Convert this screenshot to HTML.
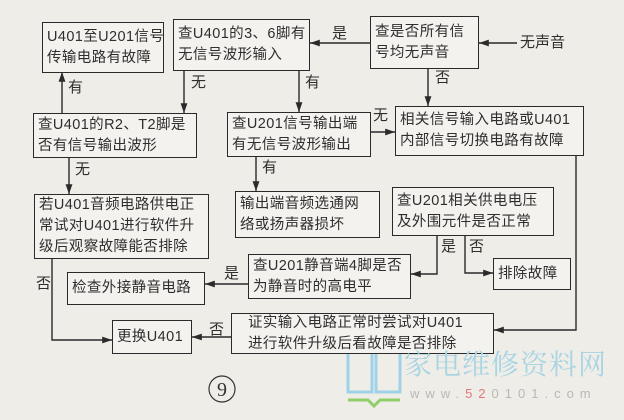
<!DOCTYPE html>
<html><head><meta charset="utf-8"><style>
html,body{margin:0;padding:0}
body{width:624px;height:420px;position:relative;overflow:hidden;background:#efede8;font-family:"Liberation Sans Narrow","Liberation Sans","Noto Sans CJK SC",sans-serif;color:#2e2e2e}
.b{position:absolute;border:1.6px solid #2a2a2a;box-sizing:border-box;background:#f4f2ee;font-size:14.5px;line-height:21px;padding:0 2px 0 4px;display:flex;flex-direction:column;justify-content:center;white-space:nowrap;letter-spacing:0.4px;overflow:hidden}
.l{position:absolute;font-size:15px;line-height:16px;color:#2e2e2e}
svg{position:absolute;left:0;top:0}
</style></head><body>
<svg width="624" height="420">
<defs><marker id="a" viewBox="0 0 10 10" refX="10" refY="5" markerWidth="7" markerHeight="7" orient="auto"><path d="M0,1.5L10,5L0,8.5z" fill="#2a2a2a"/></marker></defs>
<g stroke="#2a2a2a" stroke-width="1.4" fill="none">
<line x1="517" y1="43" x2="479" y2="43" marker-end="url(#a)"/>
<line x1="370" y1="43" x2="310" y2="43" marker-end="url(#a)"/>
<line x1="428" y1="68" x2="428" y2="106" marker-end="url(#a)"/>
<line x1="184" y1="70" x2="184" y2="113" marker-end="url(#a)"/>
<line x1="299" y1="70" x2="299" y2="112" marker-end="url(#a)"/>
<line x1="62" y1="113" x2="62" y2="72" marker-end="url(#a)"/>
<line x1="370" y1="132" x2="395" y2="132" marker-end="url(#a)"/>
<line x1="69" y1="157" x2="69" y2="194" marker-end="url(#a)"/>
<line x1="256" y1="156" x2="256" y2="191" marker-end="url(#a)"/>
<polyline points="576,155 576,330 494,330" marker-end="url(#a)"/>
<polyline points="437,235 437,274 411,274" marker-end="url(#a)"/>
<polyline points="465,235 465,273 493,273" marker-end="url(#a)"/>
<line x1="248" y1="284" x2="205" y2="284" marker-end="url(#a)"/>
<polyline points="52,258 52,340 112,340" marker-end="url(#a)"/>
<line x1="231" y1="337" x2="192" y2="337" marker-end="url(#a)"/>
</g>
<circle cx="222" cy="389" r="13" fill="none" stroke="#333" stroke-width="1.2"/>
<text x="222" y="396" font-family="Liberation Serif,serif" font-size="20" text-anchor="middle" fill="#333">9</text>
<g fill="none" stroke="#9fd2e6" stroke-width="3">
<rect x="348" y="346" width="24" height="46"/><rect x="376" y="346" width="24" height="46"/>
</g>
<path d="M348 400 L368 400 L374 406 L380 400 L400 400" stroke="#8fcf6a" stroke-width="3" fill="none"/>
</svg>
<div class="b" style="left:42px;top:22px;width:122px;height:51px">U401至U201信号<br>传输电路有故障</div>
<div class="b" style="left:173px;top:19px;width:137px;height:52px">查U401的3、6脚有<br>无信号波形输入</div>
<div class="b" style="left:370px;top:16px;width:109px;height:53px">查是否所有信<br>号均无声音</div>
<div class="b" style="left:33px;top:113px;width:164px;height:45px">查U401的R2、T2脚是<br>否有信号输出波形</div>
<div class="b" style="left:227px;top:112px;width:144px;height:45px">查U201信号输出端<br>有无信号波形输出</div>
<div class="b" style="left:395px;top:106px;width:189px;height:50px">相关信号输入电路或U401<br>内部信号切换电路有故障</div>
<div class="b" style="left:34px;top:194px;width:175px;height:65px">若U401音频电路供电正<br>常试对U401进行软件升<br>级后观察故障能否排除</div>
<div class="b" style="left:235px;top:191px;width:145px;height:47px">输出端音频选通网<br>络或扬声器损坏</div>
<div class="b" style="left:392px;top:187px;width:162px;height:49px">查U201相关供电电压<br>及外围元件是否正常</div>
<div class="b" style="left:248px;top:254px;width:163px;height:45px">查U201静音端4脚是否<br>为静音时的高电平</div>
<div class="b" style="left:67px;top:272px;width:138px;height:33px">检查外接静音电路</div>
<div class="b" style="left:493px;top:258px;width:78px;height:32px">排除故障</div>
<div class="b" style="left:112px;top:320px;width:80px;height:34px">更换U401</div>
<div class="b" style="left:231px;top:313px;width:263px;height:41px;padding-left:16px">证实输入电路正常时尝试对U401<br>进行软件升级后看故障是否排除</div>
<div class="l" style="left:332px;top:26px">是</div>
<div class="l" style="left:435px;top:70px">否</div>
<div class="l" style="left:191px;top:75px">无</div>
<div class="l" style="left:305px;top:75px">有</div>
<div class="l" style="left:68px;top:80px">有</div>
<div class="l" style="left:373px;top:108px">无</div>
<div class="l" style="left:75px;top:162px">无</div>
<div class="l" style="left:262px;top:160px">有</div>
<div class="l" style="left:441px;top:239px">是</div>
<div class="l" style="left:469px;top:239px">否</div>
<div class="l" style="left:224px;top:266px">是</div>
<div class="l" style="left:36px;top:276px">否</div>
<div class="l" style="left:209px;top:322px">否</div>
<div class="l" style="left:520px;top:35px">无声音</div>
<div style="position:absolute;left:404px;top:346px;font-size:28px;line-height:34px;color:#a8d4e4;letter-spacing:1px;white-space:nowrap;font-family:'Noto Serif CJK SC',serif">家电维修资料网</div>
<div style="position:absolute;left:410px;top:386px;font-size:13px;letter-spacing:6px;color:#b8b8b8;white-space:nowrap">www.<span style="color:#e07a7a">52</span>0101.com</div>
</body></html>
